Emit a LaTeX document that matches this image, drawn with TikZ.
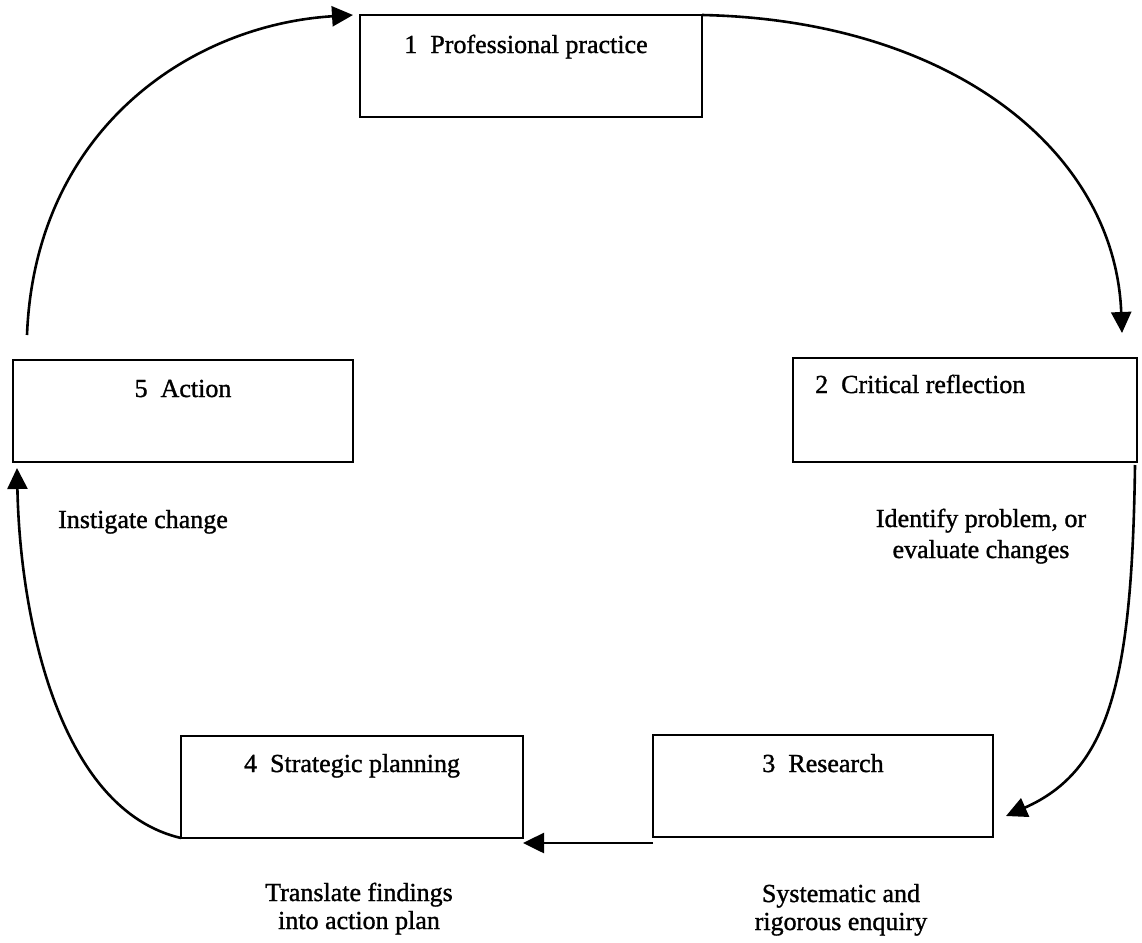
\documentclass[tikz,border=0pt]{standalone}
\usepackage{fontspec}
\setmainfont{Liberation Serif}[BoldFont=Liberation Serif, BoldFeatures={FakeBold=1.2}]
\usetikzlibrary{arrows.meta,calc}
\begin{document}
\begin{tikzpicture}[x=1pt,y=-1pt,
  box/.style={draw, line width=2.8pt, rectangle, inner sep=0pt, outer sep=0pt,
              anchor=north west, minimum height=102pt},
  txt/.style={font=\fontsize{26}{28}\selectfont\bfseries, inner sep=0pt},
  flow/.style={line width=2.6pt, -{Triangle[length=21pt,width=20pt]}},
]
% page
\fill[white] (0,0) rectangle (1142,942);
\useasboundingbox (0,0) rectangle (1142,942);

% the five stages
\node[box, minimum width=342pt] (b1) at (360,15) {};
\node[box, minimum width=344pt, minimum height=104pt] (b2) at (793,358) {};
\node[box, minimum width=340pt] (b3) at (653,735) {};
\node[box, minimum width=342pt] (b4) at (181,736) {};
\node[box, minimum width=340pt] (b5) at (13,360) {};

% stage titles
\node[txt, anchor=base] (t1) at ($(b1.north)+(-5,38)$) {1\hspace{0.5em}Professional practice};
\node[txt, anchor=base west] (t2) at ($(b2.north west)+(22,35)$) {2\hspace{0.5em}Critical reflection};
\node[txt, anchor=base] (t3) at ($(b3.north)+(0,37)$) {3\hspace{0.5em}Research};
\node[txt, anchor=base] (t4) at ($(b4.north)+(0,36)$) {4\hspace{0.5em}Strategic planning};
\node[txt, anchor=base] (t5) at ($(b5.north)+(0,37)$) {5\hspace{0.5em}Action};

% transition labels (anchored on the baseline of their last line)
\node[txt, align=center, anchor=base, font=\fontsize{26}{31}\selectfont\bfseries] (l2) at (981,558) {Identify problem, or\\evaluate changes};
\node[txt, anchor=base west] (l5) at (58,528) {Instigate change};
\node[txt, align=center, anchor=base] (l3) at (841,930) {Systematic and\\rigorous enquiry};
\node[txt, align=center, anchor=base] (l4) at (359,929) {Translate findings\\into action plan};

% the cycle
\draw[flow] (b1.north east) .. controls (950,20) and (1115,150) .. ($(b2.north east)+(-15,-25)$);
\draw[flow] ($(b2.south east)+(-2,3)$) .. controls (1132,680) and (1110,770) .. ($(b3.east)+(13,30)$);
\draw[flow] ($(b3.south west)+(0,6)$) -- ($(b4.south east)+(0,5)$);
\draw[flow] (b4.south west) .. controls (60,810) and (20,620) .. ($(b5.south west)+(4,6)$);
\draw[flow] ($(b5.north west)+(14,-25)$) .. controls (35,130) and (190,25) .. ($(b1.north west)+(-7,0)$);
\end{tikzpicture}
\end{document}
